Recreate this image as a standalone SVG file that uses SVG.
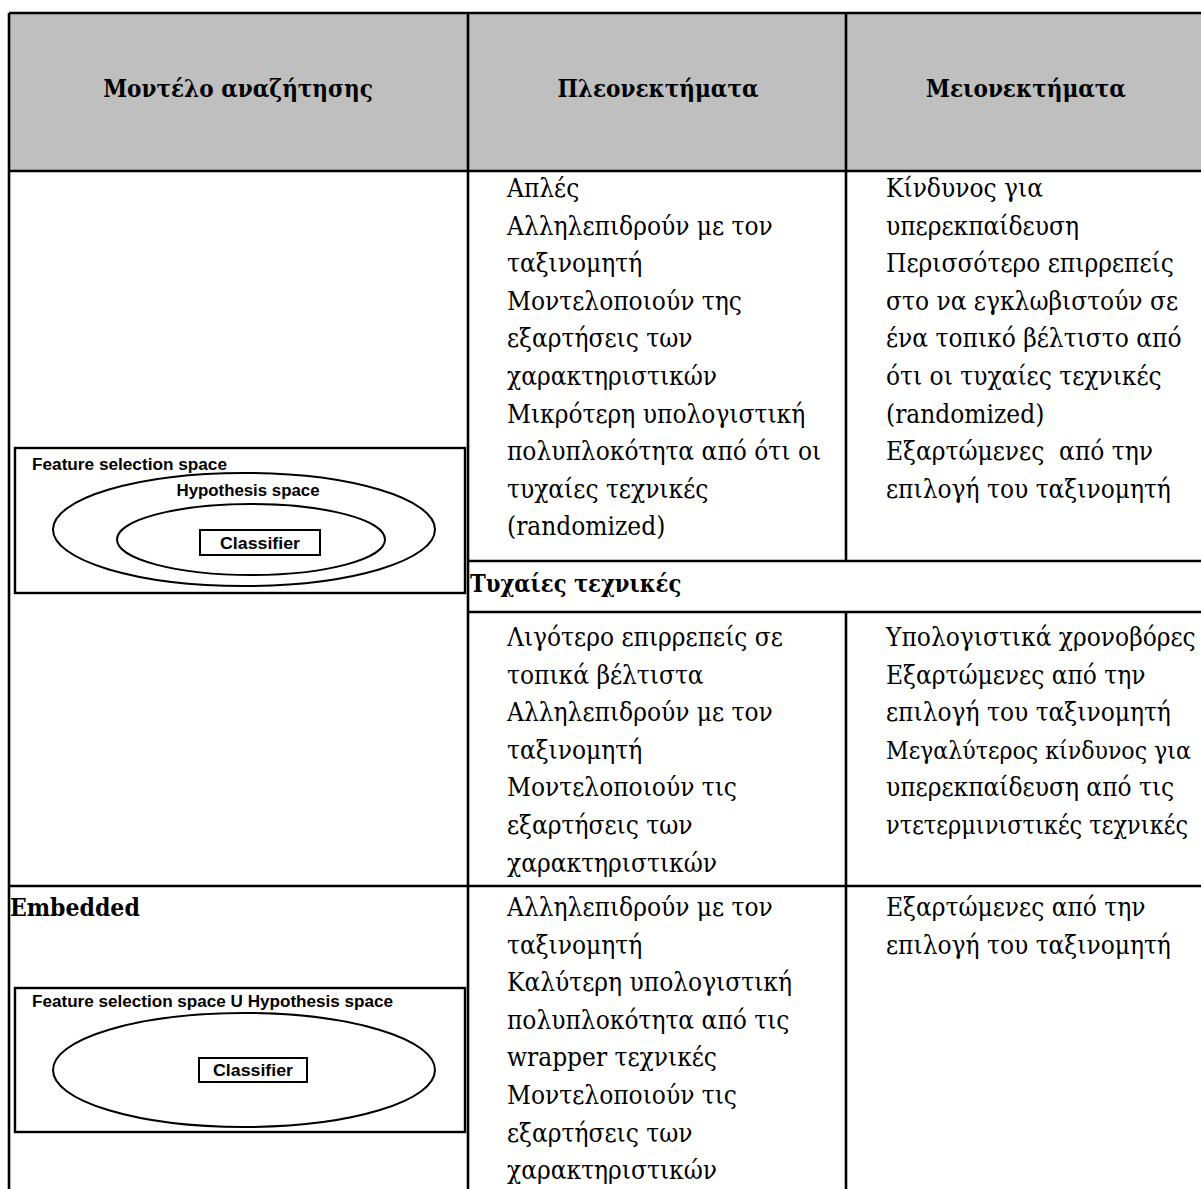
<svg xmlns="http://www.w3.org/2000/svg" width="1201" height="1189" viewBox="0 0 1201 1189">
  <style>
    .grid { stroke: #000; stroke-width: 2.6; fill: none; }
    .hdr { font-family: "DejaVu Serif Condensed", "DejaVu Serif", "Liberation Serif", serif; font-size: 24px; font-weight: bold; fill: #000; text-anchor: middle; }
    .lbl { font-family: "DejaVu Serif Condensed", "DejaVu Serif", "Liberation Serif", serif; font-size: 23.5px; font-weight: bold; fill: #000; }
    .t { font-family: "DejaVu Serif Condensed", "DejaVu Serif", "Liberation Serif", serif; font-size: 26px; fill: #000; }
    .shape { stroke: #000; stroke-width: 2; fill: none; }
    .box { stroke: #000; stroke-width: 2.4; fill: #fff; }
    .sans { font-family: "Liberation Sans", Arial, sans-serif; font-weight: bold; font-size: 16px; fill: #000; }
  </style>

  <rect width="1201" height="1189" fill="#fff"/>

  <!-- header band -->
  <rect x="9" y="13" width="1192" height="158" fill="#bfbfbf"/>

  <!-- table rules -->
  <g id="connectors" class="grid">
    <line x1="9" y1="13" x2="1201" y2="13"/>
    <line x1="9" y1="171" x2="1201" y2="171"/>
    <line x1="9" y1="13" x2="9" y2="1189"/>
    <line x1="468" y1="13" x2="468" y2="1189"/>
    <line x1="846" y1="13" x2="846" y2="561"/>
    <line x1="846" y1="612" x2="846" y2="1189"/>
    <line x1="468" y1="561" x2="1201" y2="561"/>
    <line x1="468" y1="612" x2="1201" y2="612"/>
    <line x1="9" y1="886" x2="1201" y2="886"/>
  </g>

  <!-- column headings -->
  <g id="header">
    <text class="hdr" x="238" y="97">Μοντέλο αναζήτησης</text>
    <text class="hdr" x="658" y="97">Πλεονεκτήματα</text>
    <text class="hdr" x="1026" y="97">Μειονεκτήματα</text>
  </g>

  <!-- wrapper model diagram -->
  <g id="wrapper-diagram">
    <rect class="box" x="15" y="448" width="450" height="145"/>
    <text class="sans" x="32" y="470" textLength="195" lengthAdjust="spacingAndGlyphs">Feature selection space</text>
    <ellipse class="shape" cx="244" cy="529.5" rx="191" ry="56.5"/>
    <text class="sans" x="248" y="496" text-anchor="middle" textLength="143" lengthAdjust="spacingAndGlyphs">Hypothesis space</text>
    <ellipse class="shape" cx="251" cy="539.5" rx="134" ry="35.5"/>
    <rect class="shape" x="200" y="530" width="120" height="25"/>
    <text class="sans" x="260" y="549" text-anchor="middle" textLength="80" lengthAdjust="spacingAndGlyphs">Classifier</text>
  </g>

  <!-- wrapper: advantages -->
  <g id="wrapper-pros">
    <text class="t" x="507" y="197">
      <tspan x="507">Απλές</tspan>
      <tspan x="507" dy="37.6">Αλληλεπιδρούν με τον</tspan>
      <tspan x="507" dy="37.6">ταξινομητή</tspan>
      <tspan x="507" dy="37.6">Μοντελοποιούν της</tspan>
      <tspan x="507" dy="37.6">εξαρτήσεις των</tspan>
      <tspan x="507" dy="37.6">χαρακτηριστικών</tspan>
      <tspan x="507" dy="37.6">Μικρότερη υπολογιστική</tspan>
      <tspan x="507" dy="37.6">πολυπλοκότητα από ότι οι</tspan>
      <tspan x="507" dy="37.6">τυχαίες τεχνικές</tspan>
      <tspan x="507" dy="37.6">(randomized)</tspan>
    </text>
  </g>

  <!-- wrapper: disadvantages -->
  <g id="wrapper-cons">
    <text class="t" x="886" y="197" xml:space="preserve"><tspan x="886">Κίνδυνος για</tspan><tspan x="886" dy="37.6">υπερεκπαίδευση</tspan><tspan x="886" dy="37.6">Περισσότερο επιρρεπείς</tspan><tspan x="886" dy="37.6">στο να εγκλωβιστούν σε</tspan><tspan x="886" dy="37.6">ένα τοπικό βέλτιστο από</tspan><tspan x="886" dy="37.6">ότι οι τυχαίες τεχνικές</tspan><tspan x="886" dy="37.6">(randomized)</tspan><tspan x="886" dy="37.6">Εξαρτώμενες  από την</tspan><tspan x="886" dy="37.6">επιλογή του ταξινομητή</tspan></text>
  </g>

  <!-- randomized sub-heading -->
  <g id="random-heading">
    <text class="lbl" x="470" y="592">Τυχαίες τεχνικές</text>
  </g>

  <!-- randomized: advantages -->
  <g id="random-pros">
    <text class="t" x="507" y="646">
      <tspan x="507">Λιγότερο επιρρεπείς σε</tspan>
      <tspan x="507" dy="37.6">τοπικά βέλτιστα</tspan>
      <tspan x="507" dy="37.6">Αλληλεπιδρούν με τον</tspan>
      <tspan x="507" dy="37.6">ταξινομητή</tspan>
      <tspan x="507" dy="37.6">Μοντελοποιούν τις</tspan>
      <tspan x="507" dy="37.6">εξαρτήσεις των</tspan>
      <tspan x="507" dy="37.6">χαρακτηριστικών</tspan>
    </text>
  </g>

  <!-- randomized: disadvantages -->
  <g id="random-cons">
    <text class="t" x="886" y="646">
      <tspan x="886">Υπολογιστικά χρονοβόρες</tspan>
      <tspan x="886" dy="37.6">Εξαρτώμενες από την</tspan>
      <tspan x="886" dy="37.6">επιλογή του ταξινομητή</tspan>
    </text>
    <text class="t" x="886" y="758.8" style="font-size:24.6px">Μεγαλύτερος κίνδυνος για</text>
    <text class="t" x="886" y="796.4">
      <tspan x="886">υπερεκπαίδευση από τις</tspan>
      <tspan x="886" dy="37.6" textLength="302" lengthAdjust="spacingAndGlyphs">ντετερμινιστικές τεχνικές</tspan>
    </text>
  </g>

  <!-- embedded model label and diagram -->
  <g id="embedded-label">
    <text class="lbl" x="10" y="916" style="font-size:24.5px">Embedded</text>
  </g>
  <g id="embedded-diagram">
    <rect class="box" x="15" y="988" width="450" height="144"/>
    <text class="sans" x="32" y="1007" textLength="361" lengthAdjust="spacingAndGlyphs">Feature selection space U Hypothesis space</text>
    <ellipse class="shape" cx="244" cy="1070" rx="191" ry="57"/>
    <rect class="shape" x="199" y="1058" width="108" height="24"/>
    <text class="sans" x="253" y="1076" text-anchor="middle" textLength="80" lengthAdjust="spacingAndGlyphs">Classifier</text>
  </g>

  <!-- embedded: advantages -->
  <g id="embedded-pros">
    <text class="t" x="507" y="916">
      <tspan x="507">Αλληλεπιδρούν με τον</tspan>
      <tspan x="507" dy="37.6">ταξινομητή</tspan>
      <tspan x="507" dy="37.6">Καλύτερη υπολογιστική</tspan>
      <tspan x="507" dy="37.6">πολυπλοκότητα από τις</tspan>
      <tspan x="507" dy="37.6">wrapper τεχνικές</tspan>
      <tspan x="507" dy="37.6">Μοντελοποιούν τις</tspan>
      <tspan x="507" dy="37.6">εξαρτήσεις των</tspan>
      <tspan x="507" dy="37.6">χαρακτηριστικών</tspan>
    </text>
  </g>

  <!-- embedded: disadvantages -->
  <g id="embedded-cons">
    <text class="t" x="886" y="916">
      <tspan x="886">Εξαρτώμενες από την</tspan>
      <tspan x="886" dy="37.6">επιλογή του ταξινομητή</tspan>
    </text>
  </g>
</svg>
